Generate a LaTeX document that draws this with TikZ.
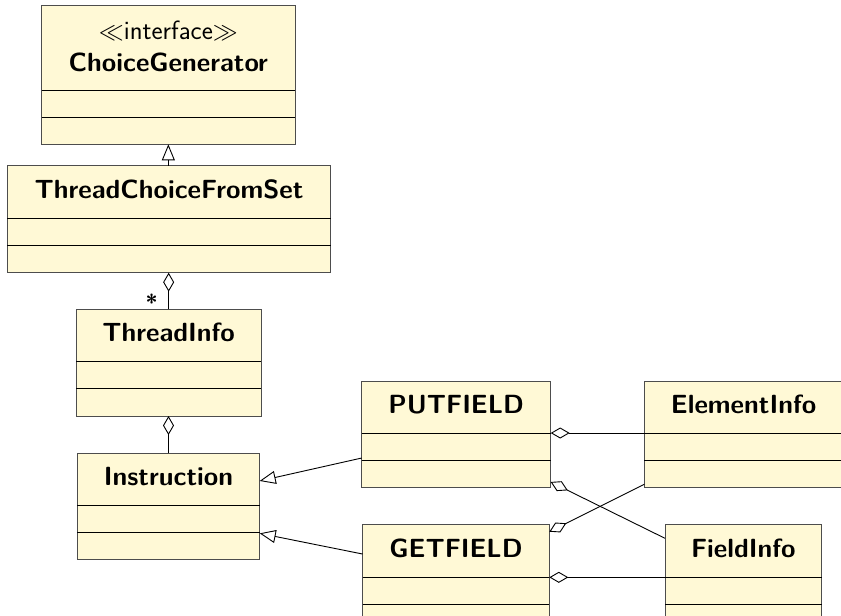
\documentclass[tikz,border=0pt]{standalone}
\usetikzlibrary{arrows.meta,calc,fit}
\definecolor{classfill}{HTML}{FFF9D6}
\definecolor{classborder}{HTML}{4D4D4D}
\newcommand{\umlclass}[7]{% name, x1, x2, top, line1, line2, bottom
  \node[classbox, fit={(#2,#4) (#3,#7)}] (#1) {};
  \draw[sectline] (#2,#5) -- (#3,#5);
  \draw[sectline] (#2,#6) -- (#3,#6);
}
\tikzset{
  classbox/.style={draw=classborder, fill=classfill, line width=1pt, inner sep=0pt, outer sep=0pt, rectangle},
  sectline/.style={draw=black, line width=0.9pt},
  classname/.style={font=\fontsize{26.3}{30}\selectfont\sffamily\bfseries, inner sep=0pt, anchor=base},
  stereo/.style={font=\fontsize{26.5}{30}\selectfont\sffamily, inner sep=0pt, anchor=base},
  conn/.style={draw=black, line width=0.9pt},
  gen/.style={conn, -{Triangle[open, length=16pt, width=13pt, line width=0.9pt]}},
  agg/.style={conn, -{Diamond[fill=white, length=19pt, width=11pt, line width=0.9pt]}},
}
\begin{document}
\begin{tikzpicture}[x=1pt, y=-1pt]
\useasboundingbox (0,0) rectangle (841,616);
\clip (0,0) rectangle (841,616);

\umlclass{cg}{41.7}{295}{5}{90}{117.3}{144.3}
\node[stereo] (cgs) at (168.35,39) {$\ll$interface$\gg$};
\node[classname] (cgt) at (168.35,71.7) {ChoiceGenerator};

\umlclass{tcs}{7.3}{330.7}{165.7}{218.3}{245.7}{272.7}
\node[classname] (tcst) at (169,198.3) {ThreadChoiceFromSet};

\umlclass{ti}{76}{261.3}{309.3}{361.7}{388.7}{416}
\node[classname] (tit) at (168.65,341.7) {ThreadInfo};

\umlclass{in}{77.3}{259.7}{453}{505.3}{532.7}{559.7}
\node[classname] (int) at (168.5,485.5) {Instruction};

\umlclass{put}{361.7}{550.7}{381.3}{433}{460.3}{487.7}
\node[classname] (putt) at (456.2,413.8) {PUTFIELD};

\umlclass{ei}{644.3}{843}{381.3}{433}{460.3}{487.7}
\node[classname] (eit) at (743.6,413.8) {ElementInfo};

\umlclass{get}{362.7}{549.3}{524.7}{577.3}{604.7}{631}
\node[classname] (gett) at (456,557.2) {GETFIELD};

\umlclass{fi}{665}{821.7}{524.7}{577.3}{604.7}{631}
\node[classname] (fit) at (743.35,557.2) {FieldInfo};

% generalizations
\draw[gen] (tcs.north -| cg.south) -- (cg.south);
\draw[gen] ($(put.north west)!0.721!(put.south west)$) -- ($(in.north east)!0.262!(in.south east)$);
\draw[gen] ($(get.north west)!0.276!(get.south west)$) -- ($(in.north east)!0.753!(in.south east)$);

% aggregations
\draw[agg] (ti.north) -- (ti.north |- tcs.south);
\node[font=\fontsize{22}{26}\selectfont\sffamily\bfseries, inner sep=0pt, anchor=base] (mult) at (151.7,310) {*};
\draw[agg] (in.north) -- (in.north |- ti.south);
\coordinate (eiw) at ($(ei.north west)!0.486!(ei.south west)$);
\draw[agg] (eiw) -- (eiw -| put.east);
\draw[agg] ($(fi.north west)!0.128!(fi.south west)$) -- ($(put.north east)!0.946!(put.south east)$);
\draw[agg] ($(ei.north west)!0.968!(ei.south west)$) -- ($(get.north east)!0.066!(get.south east)$);
\coordinate (fiw) at ($(fi.north west)!0.495!(fi.south west)$);
\draw[agg] (fiw) -- (fiw -| get.east);
\end{tikzpicture}
\end{document}
